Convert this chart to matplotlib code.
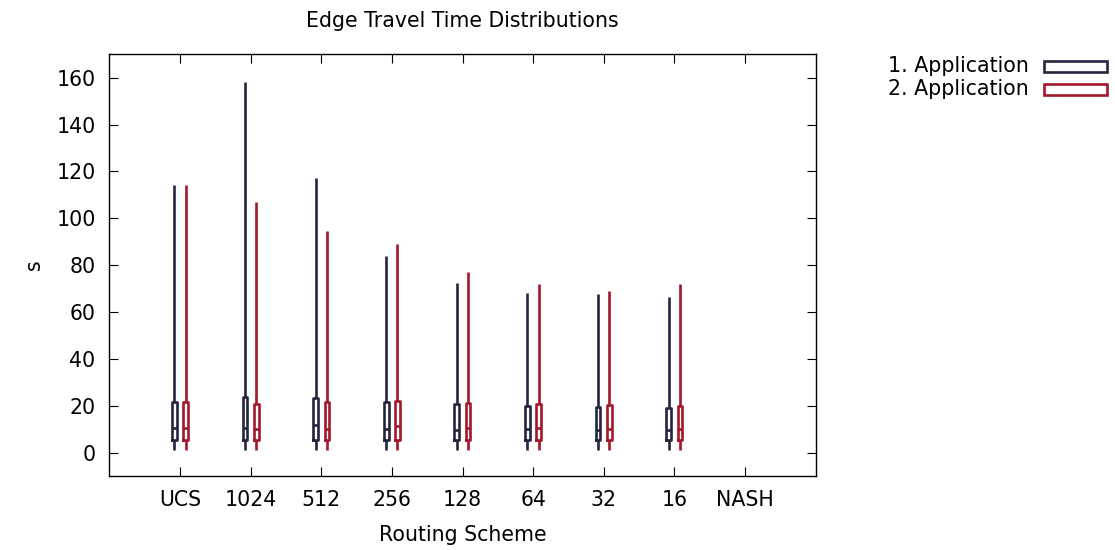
import matplotlib
matplotlib.use("Agg")
import matplotlib.pyplot as plt
from matplotlib.patches import Rectangle

# Routing schemes on the x axis (NASH has no data)
schemes = ["UCS", "1024", "512", "256", "128", "64", "32", "16", "NASH"]

# Five-number summaries per scheme (seconds): min, q1, median, q3, max
app1_min = [1.0, 1.0, 1.0, 1.0, 1.0, 1.0, 1.0, 1.0]
app1_q1 = [5.4, 5.4, 5.4, 5.4, 5.4, 5.4, 5.4, 5.4]
app1_med = [10.3, 10.5, 11.7, 10.1, 9.8, 10.1, 9.5, 9.5]
app1_q3 = [21.5, 23.6, 23.4, 21.5, 20.8, 20.1, 19.4, 19.1]
app1_max = [114.0, 158.0, 117.0, 84.0, 72.5, 68.0, 67.5, 66.5]

app2_min = [1.0, 1.0, 1.0, 1.0, 1.0, 1.0, 1.0, 1.0]
app2_q1 = [5.4, 5.4, 5.4, 5.4, 5.4, 5.4, 5.4, 5.4]
app2_med = [10.5, 10.1, 10.1, 11.5, 10.4, 10.5, 10.1, 10.1]
app2_q3 = [21.5, 20.8, 21.8, 22.2, 21.1, 20.8, 20.5, 20.1]
app2_max = [114.0, 107.0, 94.5, 89.0, 77.0, 72.0, 69.0, 72.0]

series_names = ["1. Application", "2. Application"]
colors = ["#25253f", "#a3172a"]

FS = 14.8
plt.rcParams["font.family"] = ["DejaVu Sans"]
plt.rcParams["font.size"] = FS

fig = plt.figure(figsize=(11.15, 5.5), dpi=100)
ax = fig.add_axes([0.0982, 0.1345, 0.6334, 0.7668])


def stats_for(mins, q1s, meds, q3s, maxs):
    return [dict(whislo=a, q1=b, med=c, q3=d, whishi=e, fliers=[])
            for a, b, c, d, e in zip(mins, q1s, meds, q3s, maxs)]


groups = [
    stats_for(app1_min, app1_q1, app1_med, app1_q3, app1_max),
    stats_for(app2_min, app2_q1, app2_med, app2_q3, app2_max),
]
offsets = [-0.082, 0.078]

for stats, off, col in zip(groups, offsets, colors):
    pos = [i + 1 + off for i in range(len(stats))]
    line = dict(color=col, linewidth=1.9, solid_capstyle="butt")
    ax.bxp(stats, positions=pos, widths=0.066, showcaps=False,
           showfliers=False, manage_ticks=False,
           boxprops=dict(color=col, linewidth=1.9),
           whiskerprops=line, medianprops=line)

ax.set_xlim(0, len(schemes) + 1)
ax.set_ylim(-10, 170)
ax.set_xticks(range(1, len(schemes) + 1))
ax.set_xticklabels(schemes)
ax.set_yticks(range(0, 161, 20))
ax.tick_params(direction="in", length=6.5, width=0.8,
               top=True, right=True, pad=10)
for sp in ax.spines.values():
    sp.set_linewidth(1.0)

ax.set_title("Edge Travel Time Distributions", pad=20, fontsize=FS)
ax.set_xlabel("Routing Scheme", labelpad=11)
ax.set_ylabel("s", labelpad=9)

# Key in the upper right, outside the axes
W, H = 1115.0, 550.0
for k, (name, col) in enumerate(zip(series_names, colors)):
    yc = 66.2 + k * 23.2
    fig.text(1029 / W, 1 - yc / H, name, ha="right", va="center",
             fontsize=FS)
    fig.patches.append(Rectangle((1043.5 / W, 1 - (yc + 5.3) / H),
                                 63.0 / W, 10.6 / H,
                                 transform=fig.transFigure,
                                 facecolor="white", edgecolor=col,
                                 linewidth=1.9))

fig.savefig("out.png", dpi=100)
